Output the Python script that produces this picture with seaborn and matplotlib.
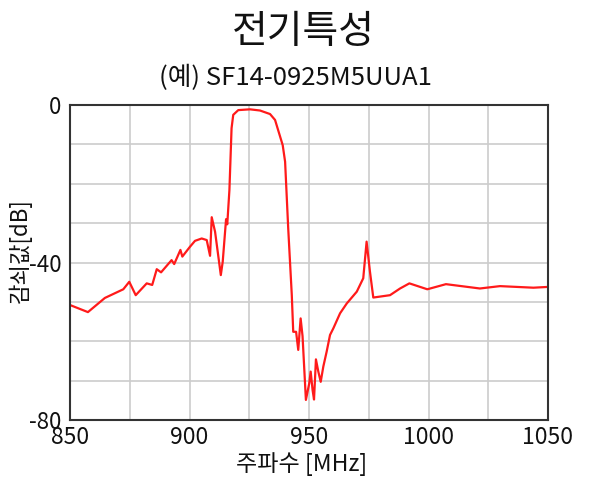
import matplotlib
matplotlib.use("Agg")
import matplotlib.pyplot as plt
import seaborn as sns
import pandas as pd
import numpy as np
from matplotlib.ticker import MultipleLocator, FixedLocator

sns.set_style("white")
plt.rcParams['font.family'] = ['Noto Sans CJK KR', 'DejaVu Sans']
plt.rcParams['axes.unicode_minus'] = False

title = "전기특성"
subtitle = "(예) SF14-0925M5UUA1"
x_label = "주파수 [MHz]"
y_label = "감쇠값[dB]"

freq = [850, 857.5, 864.6, 872.3, 874.8, 877.5, 882.1, 884.4, 886.3, 888.1,
        892.5, 893.6, 896.2, 897.0, 900.2, 902.3, 905.1, 907.2, 908.6, 909.3,
        910.7, 913.1, 913.9, 915.3, 915.8, 916.7, 917.6, 918.3, 920.4, 925.3,
        929.5, 933.7, 935.8, 939.0, 940.0, 941.3, 942.8, 943.4, 944.6, 945.5,
        946.5, 947.3, 948.7, 950.1, 950.7, 951.5, 952.1, 952.9, 953.9, 954.9,
        956.0, 957.4, 958.8, 960.2, 963.0, 965.8, 970.0, 972.7, 974.1, 975.5,
        976.9, 983.9, 988.1, 992.0, 999.5, 1007.3, 1021.5, 1029.9, 1043.9, 1050]
atten = [-50.8, -52.6, -49.0, -46.8, -44.9, -48.3, -45.3, -45.7, -41.7, -42.5,
         -39.4, -40.4, -36.8, -38.5, -36.0, -34.5, -33.9, -34.3, -38.3, -28.5,
         -32.2, -43.2, -39.8, -29.0, -30.3, -21.6, -5.9, -2.5, -1.3, -1.1,
         -1.4, -2.3, -3.8, -10.2, -14.4, -31.3, -48.3, -57.6, -57.6, -62.2,
         -54.2, -58.7, -74.9, -70.7, -67.7, -72.4, -74.8, -64.6, -67.7, -70.3,
         -66.4, -62.6, -58.4, -56.7, -52.9, -50.4, -47.4, -44.0, -34.7, -42.3,
         -48.9, -48.3, -46.6, -45.3, -46.8, -45.5, -46.6, -46.0, -46.4, -46.2]

x_ticks = [850, 900, 950, 1000, 1050]
y_ticks = [0, -40, -80]

df = pd.DataFrame({"freq": freq, "atten": atten})

fig = plt.figure(figsize=(6, 4.8), dpi=100)
ax = fig.add_axes([70/600, 1-420/480, 478/600, 315/480])

sns.lineplot(data=df, x="freq", y="atten", ax=ax, color="#ff1a1a", linewidth=1.6,
             sort=False, estimator=None)

ax.set_xlim(850, 1050)
ax.set_ylim(-80, 0)
ax.xaxis.set_major_locator(FixedLocator(x_ticks))
ax.xaxis.set_minor_locator(MultipleLocator(25))
ax.yaxis.set_major_locator(FixedLocator(y_ticks))
ax.yaxis.set_minor_locator(MultipleLocator(10))
ax.set_xticklabels([str(t) for t in x_ticks])
ax.set_yticklabels([str(t) for t in y_ticks])

ax.grid(True, which="both", color="#cccccc", linewidth=1.2)
ax.set_axisbelow(True)
for s in ax.spines.values():
    s.set_color("#333333")
    s.set_linewidth(1.5)

ax.tick_params(axis="x", which="both", length=0, pad=4, labelsize=16.5, colors="#111111")
ax.tick_params(axis="y", which="major", length=4, width=1, color="#333333", pad=2,
               labelsize=16, labelcolor="#111111")
ax.tick_params(axis="y", which="minor", length=3, width=0.8, color="#aaaaaa")

ax.set_xlabel(x_label, fontsize=16.6, color="#111111")
ax.xaxis.set_label_coords((302-70)/478, -(464-420)/315)
ax.xaxis.label.set_va("center")
ax.set_ylabel(y_label, fontsize=16, color="#111111")
ax.yaxis.set_label_coords((20-70)/478, (420-251)/315)
ax.yaxis.label.set_va("center")

fig.text(303/600, 1-32/480, title, ha="center", va="center", fontsize=28, color="#111111")
fig.text(295/600, 1-78/480, subtitle, ha="center", va="center", fontsize=18.5, color="#111111")

fig.savefig("out.png", dpi=100)
